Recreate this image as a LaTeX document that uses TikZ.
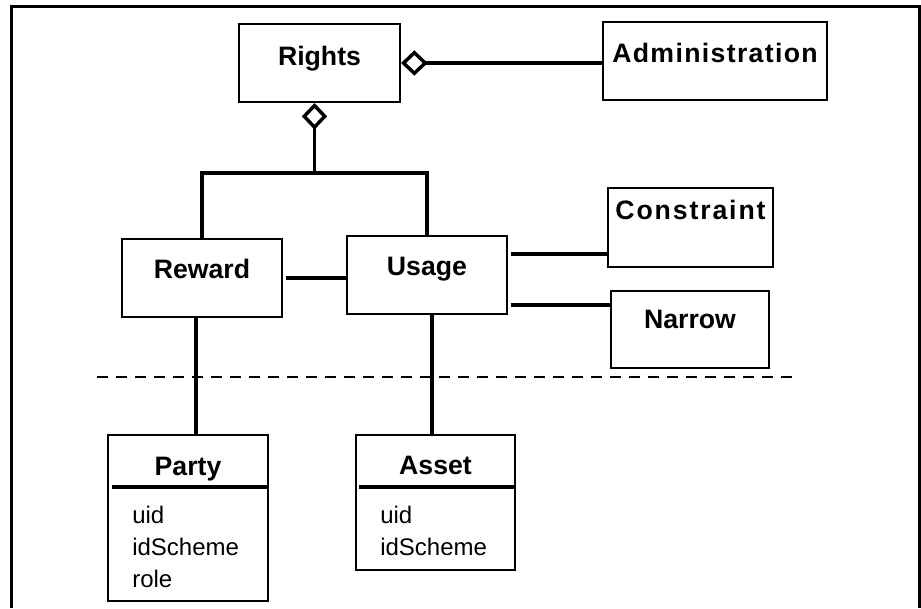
\documentclass[tikz,border=0pt]{standalone}
\usepackage{fontspec}
\setmainfont{Liberation Sans}
\usetikzlibrary{
  positioning,
  arrows.meta,
  calc
}

\tikzset{
  cls/.style={draw, line width=1.5pt, inner sep=0pt, minimum width=120pt,
    text height=29.25pt, text depth=29.25pt,
    font=\fontsize{20pt}{24pt}\selectfont\bfseries},
  spaced/.style={font=\fontsize{20pt}{24pt}\selectfont\bfseries\addfontfeature{LetterSpace=#1}},
  umlbox/.style={draw, line width=1.5pt, minimum width=120pt},
  title/.style={anchor=base, inner sep=0pt,
    font=\fontsize{20pt}{24pt}\selectfont\bfseries},
  attr/.style={anchor=north west, align=left, inner sep=0pt,
    font=\fontsize{18pt}{24pt}\selectfont},
  assoc/.style={line width=2.6pt},
  aggr/.style={assoc, {Diamond[open, length=20pt, width=19pt]}-},
  sepline/.style={line width=2.6pt}
}

\begin{document}
\begin{tikzpicture}[x=0.75pt, y=-0.75pt]

    \useasboundingbox (0,0) rectangle (921,608);

    % frame
    \draw[line width=2.25pt] (11,608) -- (11,6.5) -- (919,6.5) -- (919,608);

    % upper classes
    \node[cls, minimum width=120.75pt, text height=30.75pt, text depth=27.75pt]
        (rights) at (319.5,63) {Rights};
    \node[cls, spaced=5, minimum width=168pt, text height=30pt, text depth=28.5pt]
        (admin) at (715,61) {Administration};
    \node[cls] (reward) at (202,278) {Reward};
    \node[cls] (usage) at (427,275) {Usage};
    \node[cls, spaced=7, minimum width=123.75pt, text height=23.25pt, text depth=36pt]
        (constraint) at (690.5,227.5) {Constraint};
    \node[cls, minimum width=118.5pt, text height=27.75pt, text depth=30pt]
        (narrow) at (690,329.5) {Narrow};

    % lower classes
    \node[umlbox, minimum height=124.5pt] (party) at (188,518) {};
    \node[title] (partyname) at ($(party.north)+(0,41)$) {Party};
    \draw[sepline] ($(party.north west)+(5,53)$) -- ($(party.north east)+(0,53)$);
    \node[attr] (partyattr) at ($(party.north west)+(25,72)$) {uid\\idScheme\\role};

    \node[umlbox, minimum width=119.25pt, minimum height=101.25pt] (asset) at (435.5,502.5) {};
    \node[title] (assetname) at ($(asset.north)+(0,40)$) {Asset};
    \draw[sepline] ($(asset.north west)+(4,53)$) -- ($(asset.north east)+(0,53)$);
    \node[attr] (assetattr) at ($(asset.north west)+(25,72)$) {uid\\idScheme};

    % aggregation
    \draw[aggr] (rights.east) -- (rights.east -| admin.west);
    \draw[aggr] ($(rights.south)+(-5,0)$) -- ++(0,70) coordinate (fork);
    \draw[assoc] (reward.north) |- (fork) -| (usage.north);

    % associations
    \coordinate (ru) at ($(reward.east)+(3,0)$);
    \coordinate (uc) at ($(usage.east)+(3,-21)$);
    \coordinate (un) at ($(usage.east)+(3,30)$);
    \coordinate (rp) at ($(reward.south)+(-6,0)$);
    \coordinate (ua) at ($(usage.south)+(5,0)$);
    \draw[assoc] (ru) -- (ru -| usage.west);
    \draw[assoc] (uc) -- (uc -| constraint.west);
    \draw[assoc] (un) -- (un -| narrow.west);
    \draw[assoc] (rp) -- (rp |- party.north);
    \draw[assoc] (ua) -- (ua |- asset.north);

    % boundary
    \draw[line width=1.5pt, dash pattern=on 8.25pt off 6pt] (97,377) -- (795,377);

\end{tikzpicture}
\end{document}
